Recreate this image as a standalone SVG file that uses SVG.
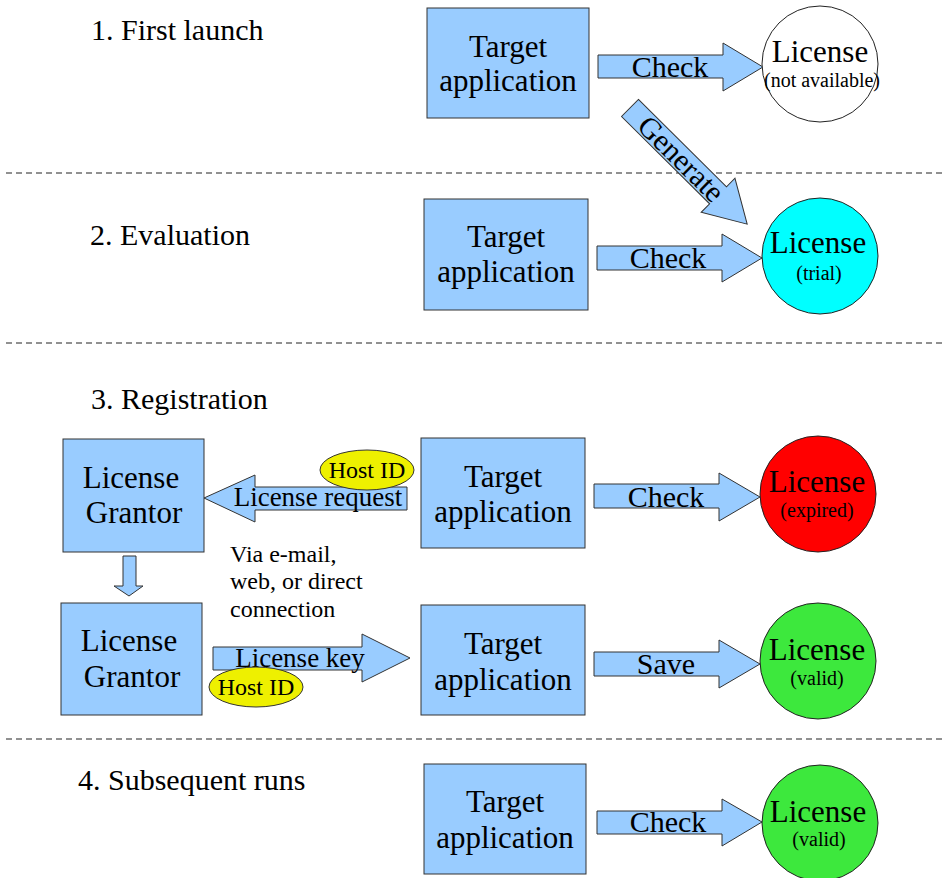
<svg xmlns="http://www.w3.org/2000/svg" width="945" height="878" viewBox="0 0 945 878">
<style>
text{font-family:'Liberation Serif','Times New Roman',serif;fill:#000}
.box{fill:#99ccff;stroke:#333;stroke-width:1}
.arr{fill:#99ccff;stroke:#333;stroke-width:1}
.lic{stroke:#222;stroke-width:1}
.host{fill:#eef000;stroke:#333;stroke-width:1}
.sep{stroke:#222;stroke-width:1;stroke-dasharray:6,4}
.big{font-size:31px}
.mid{font-size:30px}
.lbl{font-size:27px}
.sm{font-size:20px}
.hid{font-size:24px}
.sec{font-size:30px}
.via{font-size:24px}
.c{text-anchor:middle}
</style>
<rect width="945" height="878" fill="#fff"/>
<g id="separators">
<line class="sep" x1="6" y1="173" x2="945" y2="173"/>
<line class="sep" x1="6" y1="343" x2="945" y2="343"/>
<line class="sep" x1="6" y1="739" x2="945" y2="739"/>
</g>
<g id="sections">
<text class="sec" font-family="Liberation Serif" x="91" y="40">1. First launch</text>
<text class="sec" font-family="Liberation Serif" x="90" y="245">2. Evaluation</text>
<text class="sec" font-family="Liberation Serif" x="91" y="409">3. Registration</text>
<text class="sec" font-family="Liberation Serif" x="78" y="790">4. Subsequent runs</text>
</g>
<g id="connectors">
<g id="a1"><path class="arr" d="M598,55 L723,55 L723,43 L763,67 L723,91 L723,78 L598,78 Z"/><text class="mid c" font-family="Liberation Serif" x="670" y="77">Check</text></g>
<g id="gen" transform="translate(630,108) rotate(44.75)"><path class="arr" d="M0,-12 L124,-12 L124,-24 L165,0 L124,24 L124,12 L0,12 Z"/><text class="mid c" font-family="Liberation Serif" x="72" y="10">Generate</text></g>
<g id="a2"><path class="arr" d="M597,246 L722,246 L722,234 L762,258 L722,282 L722,270 L597,270 Z"/><text class="mid c" font-family="Liberation Serif" x="668" y="268">Check</text></g>
<g id="a3"><path class="arr" d="M594,484 L719,484 L719,473 L760,497 L719,521 L719,508 L594,508 Z"/><text class="mid c" font-family="Liberation Serif" x="666" y="507">Check</text></g>
<g id="a4"><path class="arr" d="M594,652 L719,652 L719,640 L760,664 L719,688 L719,676 L594,676 Z"/><text class="mid c" font-family="Liberation Serif" x="666" y="674">Save</text></g>
<g id="a5"><path class="arr" d="M597,811 L722,811 L722,799 L762,822 L722,846 L722,834 L597,834 Z"/><text class="mid c" font-family="Liberation Serif" x="668" y="832">Check</text></g>
<g id="req"><path class="arr" d="M407,487 L255,487 L255,475 L204,498 L255,522 L255,510 L407,510 Z"/><text class="lbl c" font-family="Liberation Serif" x="318" y="506">License request</text></g>
<g id="key"><path class="arr" d="M213,647 L362,647 L362,634 L410,658 L362,682 L362,670 L213,670 Z"/><text class="lbl c" font-family="Liberation Serif" x="300" y="667">License key</text></g>
<g id="down"><path class="arr" d="M123,556 L136,556 L136,586 L143,586 L129,596 L114,586 L123,586 Z"/></g>
</g>
<g id="host1"><ellipse class="host" cx="367" cy="470" rx="47" ry="20"/><text class="hid c" font-family="Liberation Serif" x="367" y="478">Host ID</text></g>
<g id="host2"><ellipse class="host" cx="256" cy="687" rx="47" ry="20"/><text class="hid c" font-family="Liberation Serif" x="256" y="695">Host ID</text></g>
<g id="via"><text class="via" font-family="Liberation Serif" x="230" y="562">Via e-mail,</text><text class="via" font-family="Liberation Serif" x="230" y="589">web, or direct</text><text class="via" font-family="Liberation Serif" x="230" y="617">connection</text></g>
<g id="t1"><rect class="box" x="427" y="8" width="162" height="110"/><text class="big c" font-family="Liberation Serif" x="508" y="57">Target</text><text class="big c" font-family="Liberation Serif" x="508" y="91">application</text></g>
<g id="t2"><rect class="box" x="424" y="199" width="164" height="111"/><text class="big c" font-family="Liberation Serif" x="506" y="247">Target</text><text class="big c" font-family="Liberation Serif" x="506" y="282">application</text></g>
<g id="t3"><rect class="box" x="421" y="438" width="164" height="110"/><text class="big c" font-family="Liberation Serif" x="503" y="487">Target</text><text class="big c" font-family="Liberation Serif" x="503" y="522">application</text></g>
<g id="t4"><rect class="box" x="421" y="605" width="164" height="110"/><text class="big c" font-family="Liberation Serif" x="503" y="654">Target</text><text class="big c" font-family="Liberation Serif" x="503" y="690">application</text></g>
<g id="t5"><rect class="box" x="424" y="764" width="162" height="110"/><text class="big c" font-family="Liberation Serif" x="505" y="812">Target</text><text class="big c" font-family="Liberation Serif" x="505" y="848">application</text></g>
<g id="g1"><rect class="box" x="63" y="439" width="141" height="113"/><text class="big c" font-family="Liberation Serif" x="131" y="488">License</text><text class="big c" font-family="Liberation Serif" x="134" y="523">Grantor</text></g>
<g id="g2"><rect class="box" x="61" y="603" width="141" height="112"/><text class="big c" font-family="Liberation Serif" x="129" y="651">License</text><text class="big c" font-family="Liberation Serif" x="132" y="687">Grantor</text></g>
<g id="l1"><circle class="lic" cx="820" cy="64" r="58" fill="#fff"/><text class="big c" font-family="Liberation Serif" x="820" y="62">License</text><text class="sm c" font-family="Liberation Serif" x="822" y="87">(not available)</text></g>
<g id="l2"><circle class="lic" cx="820" cy="256" r="58" fill="#00ffff"/><text class="big c" font-family="Liberation Serif" x="818" y="253">License</text><text class="sm c" font-family="Liberation Serif" x="819" y="280">(trial)</text></g>
<g id="l3"><circle class="lic" cx="818" cy="494" r="58" fill="#ff0000"/><text class="big c" font-family="Liberation Serif" x="817" y="492">License</text><text class="sm c" font-family="Liberation Serif" x="817" y="517">(expired)</text></g>
<g id="l4"><circle class="lic" cx="818" cy="661" r="58" fill="#3de83d"/><text class="big c" font-family="Liberation Serif" x="817" y="660">License</text><text class="sm c" font-family="Liberation Serif" x="817" y="685">(valid)</text></g>
<g id="l5"><circle class="lic" cx="820" cy="823" r="58" fill="#3de83d"/><text class="big c" font-family="Liberation Serif" x="818" y="822">License</text><text class="sm c" font-family="Liberation Serif" x="819" y="846">(valid)</text></g>
</svg>
